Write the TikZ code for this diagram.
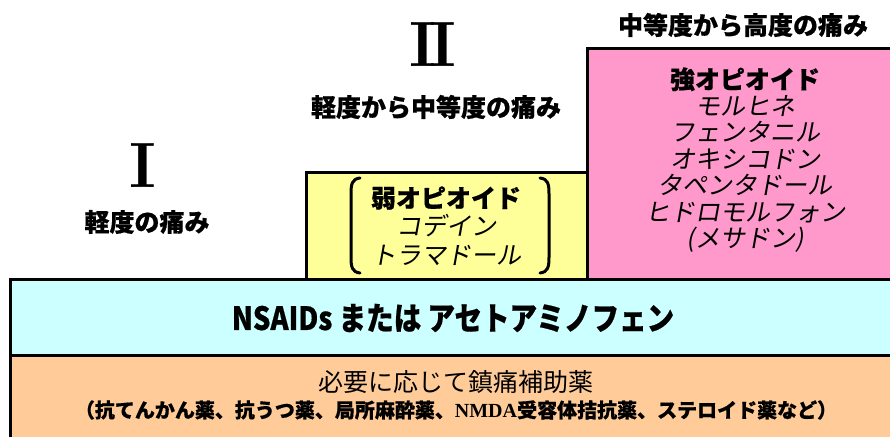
\documentclass[tikz,border=0pt]{standalone}
\usepackage{fontspec}
\newfontfamily\jp{Noto Sans CJK JP}[BoldFeatures={FakeBold=0.6}]
\newfontfamily\jpsl{Noto Sans CJK JP}[FakeSlant=0.18]
\newfontfamily\serifb{Liberation Serif}
\definecolor{cyanc}{HTML}{CCFFFF}
\definecolor{yelc}{HTML}{FFFF99}
\definecolor{pinkc}{HTML}{FF99CC}
\definecolor{orac}{HTML}{FFCC99}
\tikzset{
  box/.style={draw=black, line width=3pt},
  brk/.style={draw=black, line width=3pt, line cap=round},
  head/.style={inner sep=0pt, font=\jp\bfseries\fontsize{25}{27}\selectfont},
  numeral/.style={inner sep=0pt, font=\bfseries\fontsize{64}{64}\selectfont},
}
\begin{document}
\begin{tikzpicture}[x=1pt,y=-1pt]
\useasboundingbox (0,0) rectangle (890,436);
\fill[white] (0,0) rectangle (890,436);
% boxes
\path[box, fill=yelc] (306,172) rectangle (587,279);
\path[box, fill=pinkc] (587,49) rectangle (895,279);
\path[box, fill=orac] (10,355) rectangle (895,440);
\path[box, fill=cyanc] (10,279) rectangle (895,355);
% brackets
\path[brk] (360,178) .. controls (352,179) and (351,184) .. (351,194) -- (351,257) .. controls (351,267) and (352,272) .. (360,273);
\path[brk] (540,178) .. controls (548,179) and (549,184) .. (549,194) -- (549,257) .. controls (549,267) and (548,272) .. (540,273);
% numerals and headings
\node[numeral] (n1) at (143,166) {I};
\node[numeral] (n2) at (433,45) {I\kern-7pt I};
\node[head] (h1) at (147,222) {軽度の痛み};
\node[head] (h2) at (436,107) {軽度から中等度の痛み};
\node[head] (h3) at (743,25) {中等度から高度の痛み};
% weak opioids
\node[inner sep=0pt, align=center, font=\fontsize{25}{28.5}\selectfont] (weak) at (446,226)
  {{\jp\bfseries 弱オピオイド}\\{\jpsl コデイン}\\{\jpsl トラマドール}};
% strong opioids
\node[inner sep=0pt, align=center, font=\fontsize{25}{26.5}\selectfont] (strong) at (745,160)
  {{\jp\bfseries 強オピオイド}\\{\jpsl モルヒネ}\\{\jpsl フェンタニル}\\{\jpsl オキシコドン}\\{\jpsl タペンタドール}\\{\jpsl ヒドロモルフォン}\\{\jpsl (メサドン)}};
% NSAIDs
\node[inner sep=0pt, xscale=0.86, font=\jp\bfseries\fontsize{32}{32}\selectfont] (nsaid) at (453,318)
  {NSAIDs または アセトアミノフェン};
% adjuvants
\node[inner sep=0pt, font=\jp\fontsize{25}{25}\selectfont] (adj1) at (456,382) {必要に応じて鎮痛補助薬};
\node[inner sep=0pt, font=\jp\bfseries\fontsize{20}{20}\selectfont] (adj2) at (456,410)
  {（抗てんかん薬、抗うつ薬、局所麻酔薬、{\serifb\bfseries NMDA}受容体拮抗薬、ステロイド薬など）};
\end{tikzpicture}
\end{document}
